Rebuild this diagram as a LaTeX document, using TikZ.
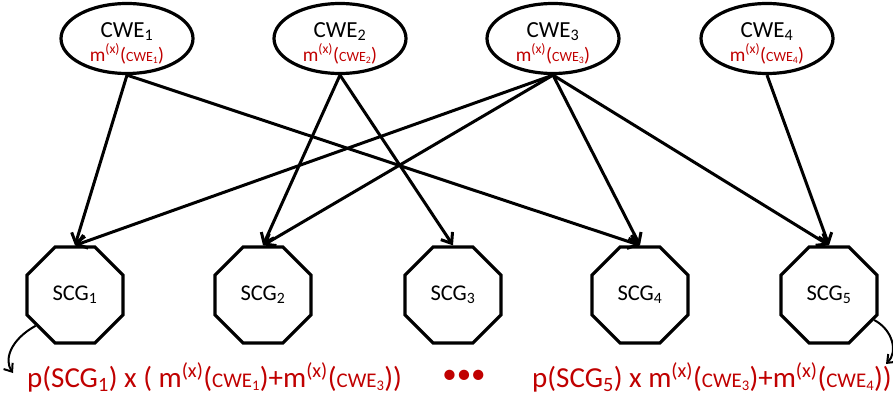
\documentclass[tikz,border=0pt]{standalone}
\usepackage{fontspec}
\setmainfont{Carlito}
\usepackage{graphicx}
\definecolor{cwered}{RGB}{192,0,0}
\usetikzlibrary{arrows.meta,shapes.geometric}
\newcommand{\cwesub}[1]{CWE\textsubscript{#1}}
\newcommand{\mcwe}[1]{m\textsuperscript{(x)}(\scalebox{0.72}{\cwesub{#1}})}
\begin{document}
\begin{tikzpicture}[x=1pt,y=-1pt,
  cweellipse/.style={draw,ellipse,line width=3.2pt,minimum width=132pt,minimum height=70pt,
    inner xsep=0pt,inner ysep=-5pt,align=center,font=\fontsize{23}{24}\selectfont},
  scgoct/.style={draw,regular polygon,regular polygon sides=8,line width=3.2pt,minimum size=104pt,
    inner sep=0pt,font=\fontsize{22.5}{24}\selectfont},
  link/.style={line width=3pt,-{Straight Barb[length=9pt,width=14pt]}},
  curl/.style={line width=2pt,-{Straight Barb[length=7pt,width=11pt]}},
  formula/.style={text=cwered,inner sep=0pt,anchor=base west,font=\fontsize{29}{30}\selectfont}
]
  \useasboundingbox (0,0) rectangle (893,401);
  \node[cweellipse] (cwe1) at (127,38.5) {\rule{0pt}{24pt}\cwesub{1}\\{\color{cwered}\fontsize{19.5}{24}\selectfont\mcwe{1}}};
  \node[cweellipse] (cwe2) at (340,38.5) {\rule{0pt}{24pt}\cwesub{2}\\{\color{cwered}\fontsize{19.5}{24}\selectfont\mcwe{2}}};
  \node[cweellipse] (cwe3) at (553,38.5) {\rule{0pt}{24pt}\cwesub{3}\\{\color{cwered}\fontsize{19.5}{24}\selectfont\mcwe{3}}};
  \node[cweellipse] (cwe4) at (767,38.5) {\rule{0pt}{24pt}\cwesub{4}\\{\color{cwered}\fontsize{19.5}{24}\selectfont\mcwe{4}}};

  \node[scgoct] (scg1) at (75,295) {SCG\textsubscript{1}};
  \node[scgoct] (scg2) at (263,295) {SCG\textsubscript{2}};
  \node[scgoct] (scg3) at (453,295) {SCG\textsubscript{3}};
  \node[scgoct] (scg4) at (640,295) {SCG\textsubscript{4}};
  \node[scgoct] (scg5) at (829,295) {SCG\textsubscript{5}};

  \draw[link] (cwe1.south) -- (scg1.north);
  \draw[link] (cwe1.south) -- (scg4.north);
  \draw[link] (cwe2.south) -- (scg2.north);
  \draw[link] (cwe2.south) -- (scg3.north);
  \draw[link] (cwe3.south) -- (scg1.north);
  \draw[link] (cwe3.south) -- (scg2.north);
  \draw[link] (cwe3.south) -- (scg4.north);
  \draw[link] (cwe3.south) -- (scg5.north);
  \draw[link] (cwe4.south) -- (scg5.north);

  \node[formula] (form1) at (27,387) {p(SCG\textsubscript{1}) x ( \mcwe{1}+\mcwe{3})};
  \node[formula,anchor=base] (dots) at (464,383) {•••};
  \node[formula] (form5) at (532,387) {p(SCG\textsubscript{5}) x \mcwe{3}+\mcwe{4})};

  \coordinate (lend) at (13,373);
  \coordinate (rend) at (886,364);
  \draw[curl] (scg1.218) .. controls (10,340) and (4,360) .. (lend);
  \draw[curl] (scg5.331) .. controls (893,330) and (898,352) .. (rend);
\end{tikzpicture}
\end{document}
